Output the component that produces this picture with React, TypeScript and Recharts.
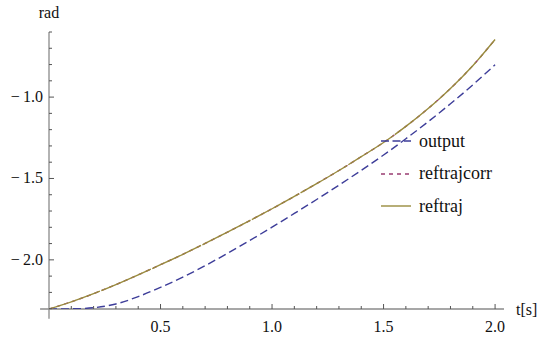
import React from 'react'
import { LineChart, Line, XAxis, YAxis, ReferenceLine } from 'recharts'

// sample times [s]
const tValues = [
  0, 0.1, 0.2, 0.3, 0.4, 0.5, 0.6, 0.7, 0.8, 0.9, 1.0,
  1.1, 1.2, 1.3, 1.4, 1.5, 1.6, 1.7, 1.8, 1.9, 2.0,
]

// measured output angle [rad]
const outputValues = [
  -2.302, -2.301, -2.294, -2.271, -2.226, -2.169, -2.106, -2.036, -1.96, -1.881, -1.799,
  -1.715, -1.629, -1.541, -1.45, -1.356, -1.256, -1.151, -1.041, -0.925, -0.801,
]

// corrected reference trajectory [rad]
const reftrajcorrValues = [
  -2.302, -2.258, -2.208, -2.152, -2.092, -2.03, -1.966, -1.899, -1.83, -1.759, -1.686,
  -1.61, -1.532, -1.451, -1.366, -1.279, -1.18, -1.07, -0.947, -0.807, -0.646,
]

// reference trajectory [rad]
const reftrajValues = [
  -2.302, -2.258, -2.208, -2.152, -2.092, -2.03, -1.966, -1.899, -1.83, -1.759, -1.686,
  -1.61, -1.532, -1.451, -1.366, -1.279, -1.18, -1.07, -0.947, -0.807, -0.646,
]

const xTicks = [
  0.1, 0.2, 0.3, 0.4, 0.5, 0.6, 0.7, 0.8, 0.9, 1.0,
  1.1, 1.2, 1.3, 1.4, 1.5, 1.6, 1.7, 1.8, 1.9, 2.0,
]
const yTicks = [
  -2.3, -2.2, -2.1, -2.0, -1.9, -1.8, -1.7, -1.6, -1.5, -1.4, -1.3, -1.2,
  -1.1, -1.0, -0.9, -0.8, -0.7, -0.6,
]

const X_MIN = 0
const X_MAX = 2.04
const Y_MIN = -2.302
const Y_MAX = -0.6
// axes run a little past the origin on both sides
const X_AXIS_START = -0.04
const Y_AXIS_START = -2.362

const COLORS = {
  output: '#3d3d99',
  reftrajcorr: '#993d71',
  reftraj: '#998c3d',
}
const AXIS = '#8a8a8a'
const TICK = '#555'
const FONT = 'Liberation Serif, DejaVu Serif, serif'

const data = tValues.map((t, i) => ({
  t,
  output: outputValues[i],
  reftrajcorr: reftrajcorrValues[i],
  reftraj: reftrajValues[i],
}))

const isMajor = (v: number) => Math.abs(v * 2 - Math.round(v * 2)) < 1e-6

const fmt = (v: number) => {
  const s = Math.abs(v).toFixed(1)
  return v < 0 ? `\u2212\u2009${s}` : s
}

function XTick(props: any) {
  const { x, y, payload } = props
  const major = isMajor(payload.value)
  return (
    <g>
      <line x1={x} y1={y} x2={x} y2={y - (major ? 5 : 3)} stroke={TICK} />
      {major && (
        <text x={x} y={y + 23} textAnchor="middle" style={{ fontFamily: FONT }} fontSize={16} fill="#111">
          {fmt(payload.value)}
        </text>
      )}
    </g>
  )
}

function YTick(props: any) {
  const { x, y, payload } = props
  const major = isMajor(payload.value)
  return (
    <g>
      <line x1={x} y1={y} x2={x + (major ? 5 : 3)} y2={y} stroke={TICK} />
      {major && (
        <text x={x - 6} y={y + 5} textAnchor="end" style={{ fontFamily: FONT }} fontSize={16} fill="#111">
          {fmt(payload.value)}
        </text>
      )}
    </g>
  )
}

const legendItems = [
  { name: 'output', color: COLORS.output, dash: '8 3.5' },
  { name: 'reftrajcorr', color: COLORS.reftrajcorr, dash: '4 4' },
  { name: 'reftraj', color: COLORS.reftraj, dash: undefined },
]

function LegendBox() {
  return (
    <div
      style={{
        position: 'absolute',
        left: 381,
        top: 125,
        fontFamily: FONT,
        fontSize: 18,
        color: '#111',
      }}
    >
      {legendItems.map((item) => (
        <div key={item.name} style={{ display: 'flex', alignItems: 'center', height: 32.5 }}>
          <svg width={30} height={4} style={{ marginRight: 8 }}>
            <line x1={0} y1={2} x2={30} y2={2} stroke={item.color} strokeWidth={1.4} strokeDasharray={item.dash} />
          </svg>
          <span>{item.name}</span>
        </div>
      ))}
    </div>
  )
}

export default function App() {
  return (
    <div style={{ position: 'absolute', left: 0, top: 0, width: 541, height: 337, background: '#fff' }}>
      <LineChart width={541} height={337} data={data} margin={{ top: 32, right: 37, bottom: 27, left: 48 }}>
        <XAxis
          type="number"
          dataKey="t"
          domain={[X_MIN, X_MAX]}
          allowDataOverflow
          ticks={xTicks}
          interval={0}
          height={1}
          axisLine={false}
          tickLine={false}
          tickSize={0}
          tickMargin={0}
          tick={<XTick />}
          label={{
            content: (p: any) => (
              <text
                x={p.viewBox.x + p.viewBox.width + 12}
                y={p.viewBox.y + 6}
                style={{ fontFamily: FONT }}
                fontSize={16}
                fill="#111"
              >
                t[s]
              </text>
            ),
          }}
        />
        <YAxis
          type="number"
          domain={[Y_MIN, Y_MAX]}
          allowDataOverflow
          ticks={yTicks}
          interval={0}
          width={1}
          axisLine={false}
          tickLine={false}
          tickSize={0}
          tickMargin={0}
          tick={<YTick />}
          label={{
            content: (p: any) => (
              <text
                x={p.viewBox.x + p.viewBox.width}
                y={p.viewBox.y - 14}
                textAnchor="middle"
                style={{ fontFamily: FONT }}
                fontSize={16}
                fill="#111"
              >
                rad
              </text>
            ),
          }}
        />
        <ReferenceLine
          segment={[{ x: X_AXIS_START, y: Y_MIN }, { x: X_MAX, y: Y_MIN }]}
          stroke={AXIS}
          strokeWidth={1.3}
          ifOverflow="visible"
        />
        <ReferenceLine
          segment={[{ x: 0, y: Y_AXIS_START }, { x: 0, y: Y_MAX }]}
          stroke={AXIS}
          strokeWidth={1.3}
          ifOverflow="visible"
        />
        <Line
          type="monotone"
          dataKey="output"
          stroke={COLORS.output}
          strokeWidth={1.4}
          strokeDasharray="8 4"
          dot={false}
          isAnimationActive={false}
        />
        <Line
          type="monotone"
          dataKey="reftrajcorr"
          stroke={COLORS.reftrajcorr}
          strokeWidth={1.4}
          strokeDasharray="4 4"
          dot={false}
          isAnimationActive={false}
        />
        {/* solid trace drawn in long segments so the corrected trace peeks through the joints */}
        <Line
          type="monotone"
          dataKey="reftraj"
          stroke={COLORS.reftraj}
          strokeWidth={1.4}
          strokeDasharray="54 1.5"
          dot={false}
          isAnimationActive={false}
        />
      </LineChart>
      <LegendBox />
    </div>
  )
}
